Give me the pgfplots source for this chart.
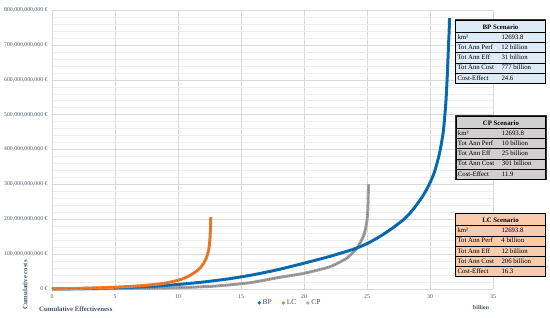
\documentclass[border=0pt]{standalone}
\usepackage{pgfplots}
\pgfplotsset{compat=1.18}
\usepackage{pgfplotstable}
\usepackage{fontspec}
\setmainfont{Liberation Serif}
\definecolor{bpblue}{HTML}{0A72BA}
\definecolor{bpdark}{HTML}{0B4A78}
\definecolor{lcorange}{HTML}{ED7D31}
\definecolor{lcdark}{HTML}{C55A11}
\definecolor{cpgray}{HTML}{A5A5A5}
\definecolor{cpdark}{HTML}{6F6F6F}
\definecolor{bpfill}{HTML}{DDEBF7}
\definecolor{cpfill}{HTML}{D0CECE}
\definecolor{lcfill}{HTML}{F8CBAD}
\definecolor{txt}{HTML}{44546A}
\definecolor{gridc}{HTML}{D9D9D9}
\definecolor{minorgridc}{HTML}{EEEEEE}

\pgfplotstableread{
x y
0 0
2 1
4 2.5
6 4.5
8 7.5
10 13
12 20
14 29
16 41
18 56
20 74
22 93
24 115
25 130
26 150
27 174
28 202
28.7 230
29.4 265
29.9 297
30.35 335
30.75 388
31.05 450
31.25 530
31.37 610
31.46 690
31.52 740
31.55 777
}\bpdata

\pgfplotstableread{
x y
0 0
1 0.8
2 1.7
3 2.7
4 3.8
5 5.2
6 7
7 9.3
8 12.5
9 17
10 25
10.5 31
11 40
11.5 52
11.8 62
12.0 72
12.2 85
12.35 100
12.45 115
12.52 135
12.56 160
12.59 185
12.6 206
}\lcdata

\pgfplotstableread{
x y
0 0
5 1
8 2.2
10 3.5
13 8.5
15.7 18
18 33
20 45
22 63
23 80
23.4 88
24.2 117
24.7 150
24.9 175
25.0 198
25.06 225
25.08 245
25.1 275
25.1 301
}\cpdata

\newcommand{\scentable}[6]{%
\fontsize{6.8}{9.6}\selectfont
\setlength{\tabcolsep}{1.5bp}\setlength{\arrayrulewidth}{0.6bp}%
\begin{tabular}{|p{41bp}p{42bp}|}\hline
\multicolumn{2}{|c|}{\rule{0pt}{9bp}\textbf{#1}}\\\hline
km² & 12693.8\\\hline
Tot Ann Perf & #2\\\hline
Tot Ann Eff & #3\\\hline
Tot Ann Cost & #4\\\hline
Cost-Effect & #5\\\hline
\end{tabular}}

\begin{document}
\begin{tikzpicture}
\useasboundingbox (0,0) rectangle (550bp,318bp);
\begin{axis}[
  at={(52bp,29bp)}, anchor=south west,
  width=441bp, height=279bp, scale only axis,
  xmin=0, xmax=35, ymin=0, ymax=800,
  xtick={0,5,...,35}, ytick={0,100,...,800},
  yticklabels={{0 €},{100,000,000,000 €},{200,000,000,000 €},{300,000,000,000 €},{400,000,000,000 €},{500,000,000,000 €},{600,000,000,000 €},{700,000,000,000 €},{800,000,000,000 €}},
  minor y tick num=4,
  ymajorgrids, yminorgrids, xmajorgrids,
  major grid style={gridc, line width=0.5bp},
  minor grid style={minorgridc, line width=0.4bp},
  axis x line*=bottom, axis y line*=left,
  axis line style={gridc, line width=0.7bp},
  major tick length=0pt, minor tick length=0pt,
  /pgf/number format/assume math mode=true,
  ticklabel style={font=\fontsize{5.8}{6}\selectfont, text=txt},
  yticklabel style={xshift=-1bp},
  xticklabel style={yshift=-2bp},
  xlabel={Cumulative Effectiveness},
  ylabel={Cumulative costs},
  every axis x label/.style={at={(axis description cs:0.054,-0.072)}, anchor=center, font=\fontsize{6.8}{7}\selectfont\bfseries, text=txt},
  every axis y label/.style={at={(axis description cs:-0.061,0.014)}, rotate=90, anchor=center, font=\fontsize{6.8}{7}\selectfont\bfseries, text=txt},
  legend style={at={(axis description cs:0.54,-0.05)}, anchor=center, draw=none, fill=none, legend columns=3, font=\fontsize{7.5}{8}\selectfont, text=txt, /tikz/every even column/.append style={column sep=8bp}},
  legend cell align=left,
  clip=false,
]
\addlegendimage{only marks, mark=*, mark size=1.5bp, bpblue}
\addlegendentry{BP}
\addlegendimage{only marks, mark=*, mark size=1.5bp, lcorange}
\addlegendentry{LC}
\addlegendimage{only marks, mark=*, mark size=1.5bp, cpgray}
\addlegendentry{CP}

\addplot[cpgray, line width=3bp, line join=round, smooth, tension=0.4, forget plot] table[x=x,y=y]{\cpdata};
\addplot[cpdark, line width=1.1bp, dash pattern=on 0.6bp off 1.1bp, smooth, tension=0.4, forget plot] table[x=x,y=y]{\cpdata};
\addplot[bpblue, line width=3bp, line join=round, smooth, tension=0.4, forget plot] table[x=x,y=y]{\bpdata};
\addplot[bpdark, line width=1.1bp, dash pattern=on 0.6bp off 1.1bp, smooth, tension=0.4, forget plot] table[x=x,y=y]{\bpdata};
\addplot[lcorange, line width=3bp, line join=round, smooth, tension=0.4, forget plot] table[x=x,y=y]{\lcdata};
\addplot[lcdark, line width=0.8bp, dash pattern=on 0.6bp off 1.1bp, smooth, tension=0.4, forget plot] table[x=x,y=y]{\lcdata};

\node[fill=bpfill, inner sep=0pt, draw=black!80, line width=0.8bp] at (axis description cs:1.017,0.851) {\scentable{BP Scenario}{12 billion}{31 billion}{777 billion}{24.6}{}};
\node[fill=cpfill, inner sep=0pt, draw=black!80, line width=0.8bp] at (axis description cs:1.018,0.507) {\scentable{CP Scenario}{10 billion}{25 billion}{301 billion}{11.9}{}};
\node[fill=lcfill, inner sep=0pt, draw=black!80, line width=0.8bp] at (axis description cs:1.017,0.158) {\scentable{LC Scenario}{4 billion}{12 billion}{206 billion}{16.3}{}};

\node[font=\fontsize{5.8}{6}\selectfont\bfseries, text=txt] at (axis description cs:0.973,-0.068) {billion};
\end{axis}
\end{tikzpicture}
\end{document}
